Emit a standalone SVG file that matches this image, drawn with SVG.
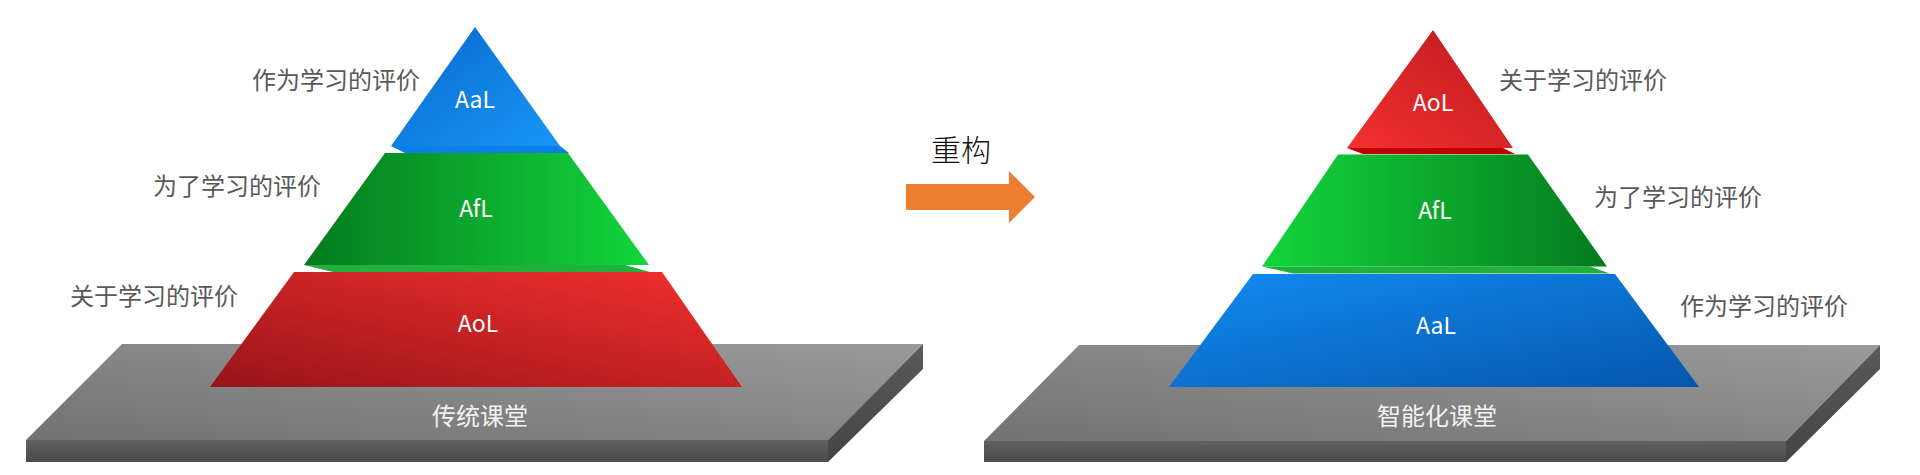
<svg xmlns="http://www.w3.org/2000/svg" width="1920" height="475" viewBox="0 0 1920 475">
<defs>
<linearGradient id="slabTop" x1="1" y1="0" x2="0" y2="1"><stop offset="0" stop-color="#9a9a9a"/><stop offset="1" stop-color="#727272"/></linearGradient>
<linearGradient id="slabFront" x1="0" y1="0" x2="0" y2="1"><stop offset="0" stop-color="#606060"/><stop offset="1" stop-color="#4b4b4b"/></linearGradient>
<linearGradient id="slabSide" x1="0" y1="0" x2="0" y2="1"><stop offset="0" stop-color="#5a5a5a"/><stop offset="1" stop-color="#444"/></linearGradient>
<linearGradient id="blueL" x1="0" y1="0" x2="1" y2="1"><stop offset="0" stop-color="#0a68cc"/><stop offset="1" stop-color="#1796f8"/></linearGradient>
<linearGradient id="blueR" x1="0" y1="0" x2="1" y2="1"><stop offset="0" stop-color="#118cf2"/><stop offset="1" stop-color="#0656ac"/></linearGradient>
<linearGradient id="greenL" x1="0" y1="0" x2="1" y2="0"><stop offset="0" stop-color="#047a1e"/><stop offset="1" stop-color="#13d63c"/></linearGradient>
<linearGradient id="greenR" x1="0" y1="0" x2="1" y2="0"><stop offset="0" stop-color="#13d63c"/><stop offset="1" stop-color="#047a1e"/></linearGradient>
<linearGradient id="redL" x1="1" y1="0" x2="0" y2="1"><stop offset="0" stop-color="#f3302f"/><stop offset="1" stop-color="#981418"/></linearGradient>
<linearGradient id="redR" x1="0" y1="1" x2="1" y2="0"><stop offset="0" stop-color="#f4302f"/><stop offset="1" stop-color="#bb1a1e"/></linearGradient>
</defs>
<style>
.lbl{font-family:"Noto Sans CJK SC","Noto Sans",sans-serif;font-size:24px;fill:#595959}
.in{font-family:"Noto Sans CJK SC","Noto Sans",sans-serif;font-size:23px;fill:#ffffff;text-anchor:middle}
.base{font-family:"Noto Sans CJK SC","Noto Sans",sans-serif;font-size:24px;fill:#f2f2f2;text-anchor:middle}
.title{font-family:"Noto Sans CJK SC","Noto Sans",sans-serif;font-size:30px;font-weight:300;fill:#111111}
</style>
<rect width="1920" height="475" fill="#ffffff"/>

<g id="left-slab">
<polygon points="122,344 923,344 828,440 26,440" fill="url(#slabTop)"/>
<polygon points="26,440 828,440 828,462 26,462" fill="url(#slabFront)"/>
<polygon points="923,344 923,369 828,462 828,440" fill="url(#slabSide)"/>
<text class="base" x="480" y="425">传统课堂</text>
</g>

<g id="left-aol">
<polygon points="294,272 662,272 742,387 210,387" fill="url(#redL)"/>
<text class="in" x="478" y="332">AoL</text>
<text class="lbl" x="70" y="305">关于学习的评价</text>
</g>
<g id="left-afl">
<polygon points="304,265 625,265 650,272 333,272" fill="#22b03c"/>
<polygon points="385,153 568,153 649,265 304,265" fill="url(#greenL)"/>
<text class="in" x="476" y="217">AfL</text>
<text class="lbl" x="153" y="195">为了学习的评价</text>
</g>
<g id="left-aal">
<polygon points="391,146 560,146 569,153 405,153" fill="#0d80e8"/>
<polygon points="475,27 560,146 391,146" fill="url(#blueL)"/>
<text class="in" x="475" y="108">AaL</text>
<text class="lbl" x="252" y="89">作为学习的评价</text>
</g>

<g id="connectors">
<polygon points="906,184 1009,184 1009,171 1035,197 1009,223 1009,210 906,210" fill="#ed7d31"/>
<text class="title" x="931" y="161">重构</text>
</g>

<g id="right-slab">
<polygon points="1079,345 1880,345 1786,441 984,441" fill="url(#slabTop)"/>
<polygon points="984,441 1786,441 1786,462 984,462" fill="url(#slabFront)"/>
<polygon points="1880,345 1880,369 1786,462 1786,441" fill="url(#slabSide)"/>
<text class="base" x="1437" y="425">智能化课堂</text>
</g>

<g id="right-aal">
<polygon points="1253,274 1615,274 1699,387 1169,387" fill="url(#blueR)"/>
<text class="in" x="1436" y="334">AaL</text>
<text class="lbl" x="1680" y="315">作为学习的评价</text>
</g>
<g id="right-afl">
<polygon points="1262,266.5 1590,266.5 1610,273.5 1293,273.5" fill="#22b03c"/>
<polygon points="1338,154.5 1528,154.5 1607,266.5 1262,266.5" fill="url(#greenR)"/>
<text class="in" x="1435" y="219">AfL</text>
<text class="lbl" x="1594" y="206">为了学习的评价</text>
</g>
<g id="right-aol">
<polygon points="1347,148 1503,148 1515,154 1363,154" fill="#c00000"/>
<polygon points="1433,30 1513,148 1347,148" fill="url(#redR)"/>
<text class="in" x="1433" y="111">AoL</text>
<text class="lbl" x="1499" y="89">关于学习的评价</text>
</g>
</svg>
